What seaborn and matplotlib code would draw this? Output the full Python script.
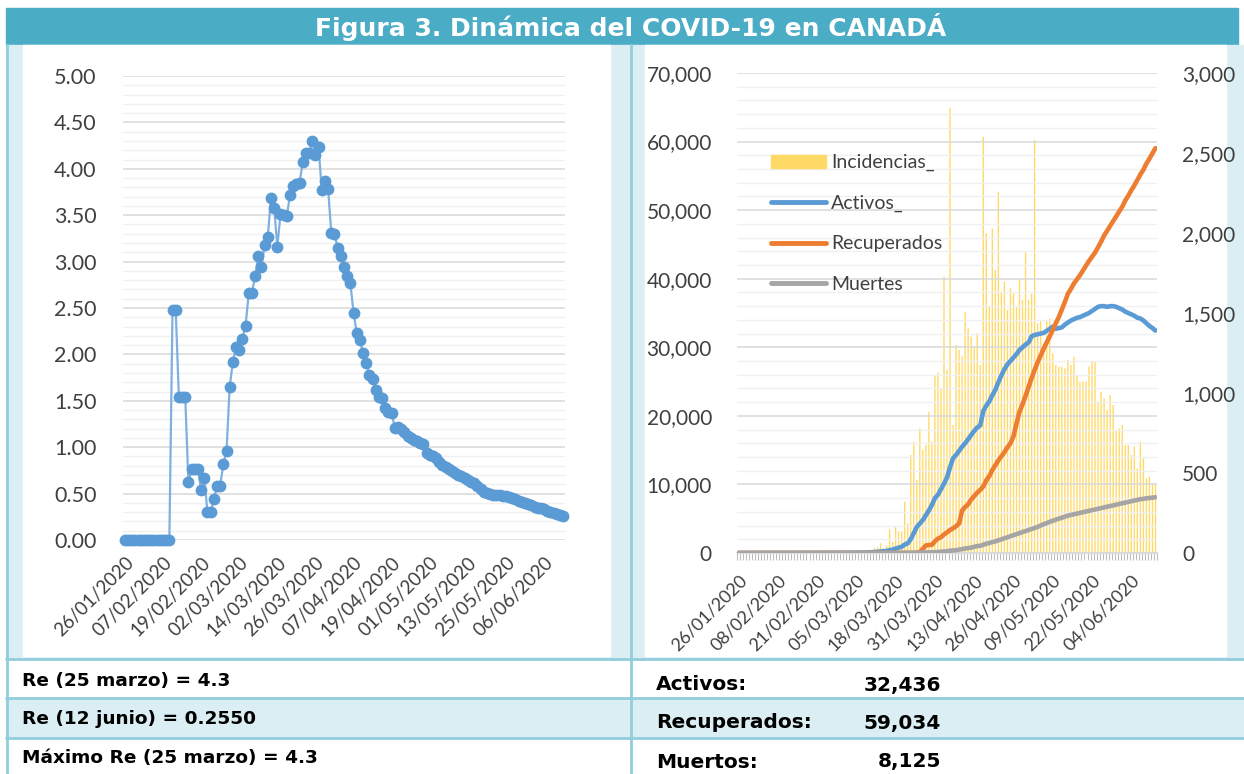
import numpy as np
import pandas as pd
import matplotlib
matplotlib.use('Agg')
import matplotlib.pyplot as plt
import seaborn as sns
from matplotlib.patches import Rectangle, Patch
from matplotlib.lines import Line2D
from matplotlib.ticker import MultipleLocator, FixedLocator, FuncFormatter

sns.set_theme(style='white')
plt.rcParams['font.family'] = ['Lato', 'DejaVu Sans']

W, H = 1244, 774

# ---- data (26/01/2020 .. 12/06/2020, one value per day) ----
dates = pd.date_range('2020-01-26', '2020-06-12', freq='D')
days = np.arange(len(dates))

re_values = [
    0, 0, 0, 0, 0, 0, 0, 0, 0, 0,
    0, 0, 0, 0, 0, 2.48, 2.48, 1.54, 1.54, 1.54,
    0.62, 0.77, 0.77, 0.77, 0.54, 0.67, 0.30, 0.30, 0.44, 0.58,
    0.58, 0.82, 0.96, 1.65, 1.92, 2.08, 2.05, 2.17, 2.31, 2.66,
    2.66, 2.84, 3.06, 2.94, 3.18, 3.27, 3.69, 3.58, 3.16, 3.51,
    3.50, 3.49, 3.72, 3.81, 3.84, 3.85, 4.07, 4.17, 4.17, 4.30,
    4.15, 4.23, 3.77, 3.87, 3.78, 3.31, 3.30, 3.15, 3.06, 2.94,
    2.84, 2.77, 2.45, 2.23, 2.16, 2.01, 1.91, 1.78, 1.73, 1.62,
    1.54, 1.53, 1.42, 1.38, 1.37, 1.21, 1.22, 1.20, 1.16, 1.12,
    1.10, 1.08, 1.07, 1.05, 1.03, 0.94, 0.92, 0.91, 0.88, 0.84,
    0.81, 0.79, 0.77, 0.74, 0.72, 0.70, 0.69, 0.67, 0.65, 0.63,
    0.61, 0.58, 0.55, 0.52, 0.51, 0.50, 0.49, 0.49, 0.48, 0.47,
    0.47, 0.46, 0.45, 0.44, 0.42, 0.41, 0.40, 0.39, 0.38, 0.36,
    0.35, 0.34, 0.33, 0.31, 0.30, 0.29, 0.28, 0.27, 0.255,
]

incidencias = [
    1, 0, 1, 0, 0, 0, 1, 0, 0, 0,
    2, 0, 0, 0, 0, 0, 0, 0, 0, 0,
    1, 0, 0, 0, 0, 1, 2, 1, 0, 1,
    0, 3, 2, 4, 3, 4, 3, 6, 3, 9,
    11, 5, 15, 15, 17, 30, 36, 62, 30, 45,
    148, 70, 165, 135, 135, 321, 185, 612, 696, 456,
    779, 644, 675, 883, 696, 1112, 1127, 1029, 1727, 1146,
    2779, 800, 1300, 1269, 1228, 1508, 1404, 1352, 1290, 1373,
    1175, 2602, 1998, 1540, 2029, 1769, 2258, 1633, 1696, 1519,
    1654, 1623, 1540, 1706, 1581, 1883, 1581, 1620, 2581, 1435,
    1456, 1310, 1456, 1466, 1248, 1175, 1165, 1165, 1154, 1206,
    1175, 1227, 1112, 1071, 1071, 1071, 1165, 1196, 1196, 946,
    1008, 967, 894, 987, 925, 769, 779, 800, 675, 675,
    612, 665, 529, 696, 592, 467, 477, 435, 425,
]

activos = [
    1, 1, 2, 2, 3, 4, 4, 4, 4, 4,
    5, 5, 6, 6, 6, 6, 6, 7, 7, 7,
    8, 8, 8, 8, 8, 8, 9, 10, 11, 12,
    14, 16, 18, 20, 22, 24, 27, 30, 33, 40,
    50, 55, 70, 85, 100, 130, 165, 225, 250, 290,
    430, 490, 650, 780, 910, 1230, 1410, 2010, 2900, 3800,
    4300, 4800, 5500, 6200, 7000, 8000, 8500, 9300, 10100, 11000,
    12500, 13800, 14300, 14900, 15500, 16000, 16600, 17200, 17800, 18300,
    18600, 20700, 21500, 22100, 23000, 23800, 24900, 25900, 26800, 27500,
    28000, 28500, 29000, 29600, 30000, 30400, 30700, 31600, 31800, 31900,
    32000, 32100, 32400, 32700, 33000, 32700, 32800, 32900, 33300, 33600,
    33900, 34100, 34300, 34400, 34600, 34800, 35000, 35300, 35600, 35900,
    36000, 36000, 35900, 36000, 36000, 35900, 35700, 35500, 35200, 35000,
    34800, 34600, 34300, 34200, 33900, 33500, 33100, 32800, 32436,
]

recuperados = [
    0, 0, 0, 0, 0, 0, 0, 0, 0, 0,
    0, 0, 0, 0, 0, 0, 0, 0, 0, 0,
    0, 0, 1, 1, 1, 2, 3, 3, 3, 3,
    3, 3, 3, 3, 3, 4, 4, 4, 4, 5,
    5, 6, 6, 8, 8, 8, 8, 8, 9, 9,
    9, 9, 10, 10, 11, 12, 14, 20, 30, 50,
    150, 600, 1100, 1150, 1200, 1700, 2100, 2300, 2700, 3000,
    3350, 3600, 3900, 4300, 6200, 6700, 7100, 7800, 8300, 8800,
    9200, 9700, 10600, 11200, 12100, 12800, 13500, 14100, 14700, 15400,
    16000, 17000, 18900, 20600, 21700, 22900, 24200, 25500, 26700, 27800,
    28800, 29800, 30700, 31600, 32500, 33500, 34400, 35500, 36600, 37800,
    38500, 39300, 39900, 40500, 41200, 41900, 42600, 43200, 43800, 44600,
    45400, 46300, 47000, 47700, 48400, 49100, 49800, 50500, 51400, 52100,
    52900, 53600, 54400, 55200, 55900, 56800, 57500, 58300, 59034,
]

muertes = [
    0, 0, 0, 0, 0, 0, 0, 0, 0, 0,
    0, 0, 0, 0, 0, 0, 0, 0, 0, 0,
    0, 0, 0, 0, 0, 0, 0, 0, 0, 0,
    0, 0, 0, 0, 0, 0, 0, 0, 0, 0,
    0, 0, 0, 1, 1, 1, 1, 1, 1, 4,
    8, 9, 12, 12, 19, 21, 25, 26, 30, 38,
    54, 61, 64, 89, 101, 109, 139, 179, 218, 259,
    339, 375, 407, 503, 557, 654, 714, 781, 900, 1010,
    1050, 1200, 1350, 1450, 1600, 1700, 1850, 2000, 2150, 2300,
    2450, 2600, 2750, 2900, 3050, 3200, 3350, 3500, 3650, 3800,
    4000, 4200, 4350, 4550, 4700, 4850, 5000, 5150, 5300, 5450,
    5550, 5650, 5750, 5850, 5950, 6050, 6150, 6250, 6350, 6450,
    6550, 6650, 6750, 6850, 6950, 7050, 7150, 7250, 7350, 7450,
    7550, 7650, 7750, 7850, 7900, 7980, 8030, 8080, 8125,
]

title = 'Figura 3. Dinámica del COVID-19 en CANADÁ'
left_rows = ['Re (25 marzo) = 4.3', 'Re (12 junio) = 0.2550', 'Máximo Re (25 marzo) = 4.3']
right_names = ['Activos:', 'Recuperados:', 'Muertos:']
right_values = ['32,436', '59,034', '8,125']
series_names = ['Incidencias_', 'Activos_', 'Recuperados', 'Muertes']

teal = '#4BACC6'
light = '#DAEEF3'
rule = '#92CDDC'
txt = '#404040'
c_bar, c_act, c_rec, c_mue = '#FFD966', '#5B9BD5', '#ED7D31', '#A5A5A5'


def px_rect(x0, y0, x1, y1):
    return [x0 / W, 1 - y1 / H, (x1 - x0) / W, (y1 - y0) / H]


fig = plt.figure(figsize=(W / 100, H / 100), dpi=100)
fig.patch.set_facecolor('white')

# background frame drawn in pixel coordinates
bg = fig.add_axes([0, 0, 1, 1], zorder=0)
bg.set_xlim(0, W)
bg.set_ylim(H, 0)
bg.axis('off')
bg.add_patch(Rectangle((6, 8), 1232, 37, color=teal))
bg.text(631, 27, title, color='white', fontsize=18, fontweight='bold',
        ha='center', va='center', family='DejaVu Sans')
bg.add_patch(Rectangle((6, 45), W - 6, 614, color=light))
bg.add_patch(Rectangle((23, 45), 587, 611, color='white'))
bg.add_patch(Rectangle((645, 45), 581, 611, color='white'))
bg.add_patch(Rectangle((6, 698), W - 6, 40, color=light))
for y in [659, 698, 738]:
    bg.plot([6, W], [y, y], color=rule, lw=2)
bg.plot([7, 7], [45, H], color=rule, lw=2)
bg.plot([631, 631], [45, H], color=rule, lw=2)

row_y = [681, 719, 758]
for i in range(3):
    bg.text(22, row_y[i], left_rows[i], fontsize=13.3, fontweight='bold',
            ha='left', va='center', family='DejaVu Sans', color='black')
    bg.text(656, row_y[i] + 4, right_names[i], fontsize=14.5, fontweight='bold',
            ha='left', va='center', family='DejaVu Sans', color='black')
    bg.text(941, row_y[i] + 4, right_values[i], fontsize=14.5, fontweight='bold',
            ha='right', va='center', family='DejaVu Sans', color='black')

# ---- left chart: Re ----
axL = fig.add_axes(px_rect(123, 76, 565, 540), zorder=2)
axL.set_facecolor('none')
sns.lineplot(x=days, y=re_values, ax=axL, color='#7FB0E0', lw=1.6,
             marker='o', markersize=8.5, markerfacecolor=c_act,
             markeredgewidth=0, clip_on=False)
axL.set_xlim(-0.6, 138.6)
axL.set_ylim(0, 5)
axL.yaxis.set_major_locator(MultipleLocator(0.5))
axL.yaxis.set_minor_locator(MultipleLocator(0.1))
axL.yaxis.set_major_formatter(FuncFormatter(lambda v, p: f'{v:.2f}'))
axL.grid(which='major', axis='y', color='#D9D9D9', lw=1.1)
axL.grid(which='minor', axis='y', color='#F0F0F0', lw=1.0)
axL.set_axisbelow(True)
axL.set_xticks(days[::12])
axL.set_xticklabels([d.strftime('%d/%m/%Y') for d in dates[::12]],
                    rotation=45, ha='right', rotation_mode='anchor', fontsize=13.5, color=txt)
axL.tick_params(axis='y', labelsize=15.5, labelcolor=txt, length=0, pad=19)
axL.tick_params(axis='x', length=0, pad=10)
axL.set_xlabel('')
axL.set_ylabel('')
for sp in axL.spines.values():
    sp.set_visible(False)

# ---- right chart: incidence bars (right scale) + lines (left scale) ----
axB = fig.add_axes(px_rect(737, 73, 1157, 553), zorder=2)
axB.set_facecolor('none')
axA = axB.twinx()
axA.set_facecolor('none')

sns.barplot(x=days, y=incidencias, ax=axB, color=c_bar,
            saturation=1, width=0.45, errorbar=None, linewidth=0)
for bar in axB.patches:
    bar.set_snap(False)
axB.set_xlim(-0.5, 138.5)
axB.set_ylim(0, 3000)
axB.yaxis.tick_right()
axB.yaxis.set_major_locator(MultipleLocator(500))
axB.yaxis.set_major_formatter(FuncFormatter(lambda v, p: f'{v:,.0f}'))
axB.tick_params(axis='y', labelsize=15, labelcolor=txt, length=0, pad=18)
axB.set_xticks(days[::13])
axB.set_xticklabels([d.strftime('%d/%m/%Y') for d in dates[::13]],
                    rotation=45, ha='right', rotation_mode='anchor', fontsize=13, color=txt)
axB.xaxis.set_minor_locator(FixedLocator(np.arange(-0.5, 139, 1)))
axB.tick_params(axis='x', which='major', length=0, pad=14)
axB.tick_params(axis='x', which='minor', length=5, width=0.8, color='#BFBFBF', bottom=True)
axB.set_xlabel('')
axB.set_ylabel('')
for name, sp in axB.spines.items():
    sp.set_visible(name == 'bottom')
axB.spines['bottom'].set_color('#D9D9D9')

sns.lineplot(x=days, y=activos, ax=axA, color=c_act, lw=3.3, solid_capstyle='round')
sns.lineplot(x=days, y=recuperados, ax=axA, color=c_rec, lw=3.3, solid_capstyle='round')
sns.lineplot(x=days, y=muertes, ax=axA, color=c_mue, lw=3.3, solid_capstyle='round')
axA.set_ylim(0, 70000)
axA.yaxis.tick_left()
axA.yaxis.set_major_locator(MultipleLocator(10000))
axA.yaxis.set_minor_locator(MultipleLocator(2000))
axA.yaxis.set_major_formatter(FuncFormatter(lambda v, p: f'{v:,.0f}'))
axA.tick_params(axis='y', labelsize=15, labelcolor=txt, length=0, pad=18)
axA.tick_params(axis='y', which='minor', length=0)
axA.grid(which='major', axis='y', color='#D9D9D9', lw=1.1)
axA.grid(which='minor', axis='y', color='#F0F0F0', lw=1.0)
axA.set_axisbelow(True)
axA.set_ylabel('')
for sp in axA.spines.values():
    sp.set_visible(False)

handles = [Patch(color=c_bar),
           Line2D([], [], color=c_act, lw=3.5, solid_capstyle='round'),
           Line2D([], [], color=c_rec, lw=3.5, solid_capstyle='round'),
           Line2D([], [], color=c_mue, lw=3.5, solid_capstyle='round')]
axA.legend(handles, series_names, loc='upper left', bbox_to_anchor=(771, 154),
           bbox_transform=bg.transData, frameon=False, fontsize=14,
           handlelength=2.85, handleheight=0.65, handletextpad=0.25,
           labelspacing=1.2, borderpad=0, borderaxespad=0, labelcolor=txt)

fig.savefig('out.png', dpi=100)
